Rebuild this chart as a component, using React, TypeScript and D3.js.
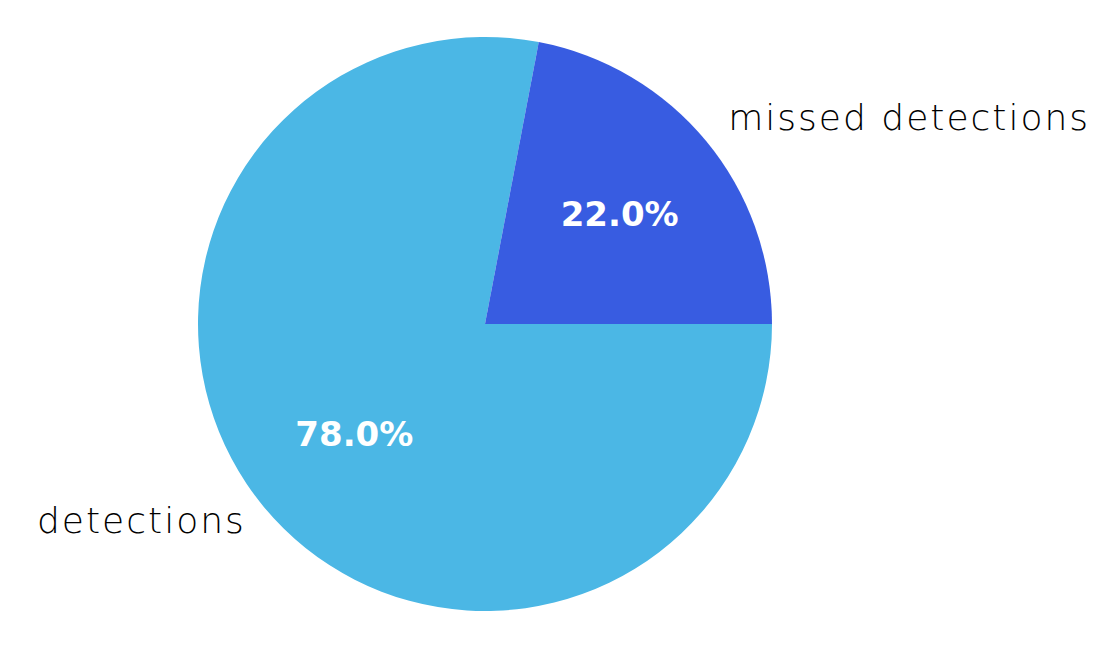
import React, { useEffect, useRef } from 'react';
import * as d3 from 'd3';

const labels: string[] = ['detections', 'missed detections'];
const values: number[] = [78, 22];
const colors: string[] = ['#4bb7e5', '#385ce1'];

const App: React.FC = () => {
    const svgRef = useRef<SVGSVGElement>(null);

    useEffect(() => {
        if (!svgRef.current) return;
        d3.select(svgRef.current).selectAll('*').remove();

        const width = 1109;
        const height = 654;
        const cx = 485;
        const cy = 324;
        const radius = 287;
        const font = "'DejaVu Sans', sans-serif";

        const svg = d3.select(svgRef.current)
            .attr('width', width)
            .attr('height', height);

        const g = svg.append('g')
            .attr('transform', `translate(${cx},${cy})`);

        // first slice starts at 3 o'clock, going clockwise
        const pie = d3.pie<number>()
            .sort(null)
            .startAngle(Math.PI / 2)
            .endAngle(Math.PI / 2 + 2 * Math.PI);

        const arcs = pie(values);

        const arc = d3.arc<d3.PieArcDatum<number>>()
            .innerRadius(0)
            .outerRadius(radius);

        g.selectAll('path.slice')
            .data(arcs)
            .enter().append('path')
            .attr('class', 'slice')
            .attr('d', arc)
            .attr('fill', (d, i) => colors[i]);

        const total = d3.sum(values);
        const midAngle = (d: d3.PieArcDatum<number>) => (d.startAngle + d.endAngle) / 2;

        // percentage labels
        g.selectAll('text.pct')
            .data(arcs)
            .enter().append('text')
            .attr('class', 'pct')
            .attr('x', d => Math.sin(midAngle(d)) * radius * 0.6 + 2)
            .attr('y', d => -Math.cos(midAngle(d)) * radius * 0.6)
            .attr('text-anchor', 'middle')
            .attr('dominant-baseline', 'central')
            .attr('fill', 'white')
            .attr('font-family', font)
            .attr('font-weight', 'bold')
            .attr('font-size', 34)
            .text(d => `${(d.value / total * 100).toFixed(1)}%`);

        // category labels
        g.selectAll('text.cat')
            .data(arcs)
            .enter().append('text')
            .attr('class', 'cat')
            .attr('x', d => Math.sin(midAngle(d)) * radius * 1.1)
            .attr('y', d => -Math.cos(midAngle(d)) * radius * 1.1)
            .attr('dx', d => Math.sin(midAngle(d)) > 0 ? 0 : 4)
            .attr('dy', '-0.14em')
            .attr('text-anchor', d => Math.sin(midAngle(d)) > 0 ? 'start' : 'end')
            .attr('dominant-baseline', 'central')
            .attr('fill', 'black')
            .attr('font-family', font)
            .attr('font-weight', 200)
            .attr('font-size', 36)
            .attr('letter-spacing', 2)
            .text((d, i) => labels[i]);
    }, []);

    return (
        <svg ref={svgRef} style={{ position: 'absolute', left: 0, top: 0, display: 'block', background: 'white' }}></svg>
    );
};

export default App;
